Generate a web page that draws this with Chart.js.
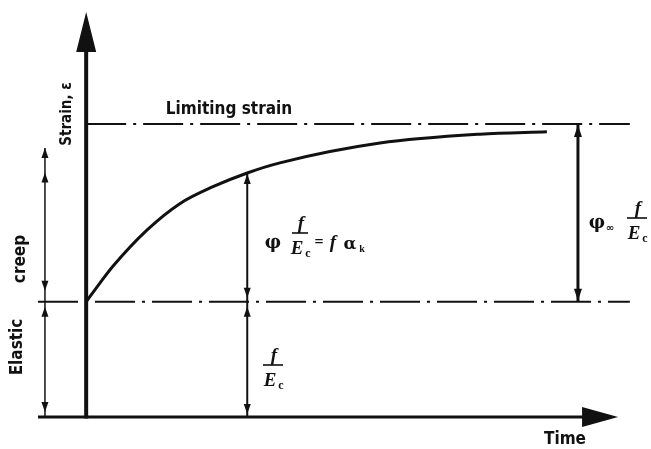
<!DOCTYPE html>
<html lang="en">
<head>
  <meta charset="UTF-8">
  <title>Strain-time curve</title>
  <script src="https://cdn.jsdelivr.net/npm/chart.js"></script>
  <style>
    html, body {
      margin: 0;
      padding: 0;
      background: #fff;
    }
    #wrap {
      width: 651px;
      height: 449px;
    }
  </style>
</head>
<body>
<div id="wrap">
  <canvas id="creepChart" width="651" height="449"></canvas>
</div>

<script>
  // creep curve (arbitrary units)
  const time = [0, 2.6, 5.0, 11.4, 17.5, 23.7, 30.1, 36.2, 54.9, 73.6, 86.1];
  const strain = [28.5, 33.2, 37.3, 46.3, 52.8, 57.0, 60.4, 62.9, 67.8, 70.0, 70.6];

  // reference levels
  const elasticStrain = 28.5;
  const limitingStrain = 72.5;
  const lineStart = [-9, 0];      // elastic, limiting
  const lineEnd = 101.6;

  // dimension lines: time position, lower and upper strain
  const dimTime = [30.1, 91.9, -7.7];
  const dimTop = [60.4, limitingStrain, 66.6];

  const ink = '#111';
  const sans = '"DejaVu Sans Condensed", "Liberation Sans Narrow", "DejaVu Sans", sans-serif';
  const serif = '"Liberation Serif", "DejaVu Serif", serif';

  function arrowHead(c, x, y, dir, len, half) {
    // dir: 'up', 'down', 'right'
    c.beginPath();
    if (dir === 'up') {
      c.moveTo(x, y); c.lineTo(x - half, y + len); c.lineTo(x + half, y + len);
    } else if (dir === 'down') {
      c.moveTo(x, y); c.lineTo(x - half, y - len); c.lineTo(x + half, y - len);
    } else {
      c.moveTo(x, y); c.lineTo(x - len, y - half); c.lineTo(x - len, y + half);
    }
    c.closePath();
    c.fill();
  }

  function vline(c, x, y1, y2, w) {
    c.lineWidth = w;
    c.beginPath();
    c.moveTo(x, y1);
    c.lineTo(x, y2);
    c.stroke();
  }

  function rotText(c, text, x, y) {
    c.save();
    c.translate(x, y);
    c.rotate(-Math.PI / 2);
    c.fillText(text, 0, 0);
    c.restore();
  }

  // f over E_c, centred on x
  function fraction(c, x, yBar, barW) {
    c.font = 'italic bold 19px ' + serif;
    c.textAlign = 'center';
    c.fillText('f', x + 1, yBar - 4);
    c.fillRect(x - barW / 2, yBar - 0.8, barW, 1.6);
    c.font = 'italic bold 19px ' + serif;
    c.fillText('E', x - 3, yBar + 21);
    c.font = 'bold 12px ' + serif;
    c.fillText('c', x + 8, yBar + 24);
  }

  const annotations = {
    id: 'annotations',
    afterDatasetsDraw(chart) {
      const c = chart.ctx;
      const X = v => chart.scales.x.getPixelForValue(v);
      const Y = v => chart.scales.y.getPixelForValue(v);
      c.save();
      c.strokeStyle = ink;
      c.fillStyle = ink;
      c.lineCap = 'butt';

      // axes with arrows
      const x0 = X(0), y0 = Y(0);
      vline(c, x0, y0 + 1.5, Y(100) + 38, 4);
      arrowHead(c, x0, Y(100) - 1, 'up', 40, 10);
      c.lineWidth = 3;
      c.beginPath();
      c.moveTo(X(-9), y0);
      c.lineTo(X(99.4) - 34, y0);
      c.stroke();
      arrowHead(c, X(99.4), y0, 'right', 36, 10);

      // dimension at the creep curve
      const xa = X(dimTime[0]);
      vline(c, xa, Y(dimTop[0]), y0, 2);
      arrowHead(c, xa, Y(dimTop[0]) + 1, 'up', 10, 3.5);
      arrowHead(c, xa, Y(elasticStrain) - 4, 'down', 10, 3.5);
      arrowHead(c, xa, Y(elasticStrain) + 5, 'up', 10, 3.5);
      arrowHead(c, xa, y0 - 3, 'down', 10, 3.5);

      // ultimate creep dimension
      const xb = X(dimTime[1]);
      vline(c, xb, Y(dimTop[1]), Y(elasticStrain), 3);
      arrowHead(c, xb, Y(dimTop[1]) + 1, 'up', 12, 4);
      arrowHead(c, xb, Y(elasticStrain) - 1, 'down', 12, 4);

      // left-hand elastic / creep dimension
      const xc = X(dimTime[2]);
      vline(c, xc, Y(dimTop[2]), y0, 1.5);
      arrowHead(c, xc, Y(dimTop[2]), 'up', 10, 3.5);
      arrowHead(c, xc, Y(60.5), 'up', 10, 3.5);
      arrowHead(c, xc, Y(elasticStrain) - 11, 'down', 10, 3.5);
      arrowHead(c, xc, Y(elasticStrain) + 5, 'up', 10, 3.5);
      arrowHead(c, xc, y0 - 5, 'down', 10, 3.5);

      // text
      c.textBaseline = 'middle';
      c.textAlign = 'center';
      c.font = 'bold 17px ' + sans;
      c.fillText('Limiting strain', 229, 110);
      c.fillText('Time', 565, 440);
      rotText(c, 'creep', 21, 259);
      rotText(c, 'Elastic', 18, 347);
      c.font = 'bold 15px ' + sans;
      rotText(c, 'Strain, \u03b5', 67, 114);

      c.textBaseline = 'alphabetic';
      // phi f/Ec = f alpha_k
      c.font = 'bold 18px "DejaVu Serif", serif';
      c.fillText('\u03c6', 273, 248);
      fraction(c, 300, 233, 16);
      c.font = 'bold 16px ' + serif;
      c.fillText('=', 319, 247);
      c.font = 'italic bold 19px ' + serif;
      c.fillText('f', 333, 248);
      c.font = 'bold 17px "DejaVu Serif", serif';
      c.fillText('\u03b1', 350, 249);
      c.font = 'bold 10px ' + serif;
      c.fillText('k', 362, 252);

      // f/Ec
      fraction(c, 273, 365, 20);

      // phi_inf f/Ec
      c.font = 'bold 18px "DejaVu Serif", serif';
      c.fillText('\u03c6', 597, 228);
      c.font = 'bold 10px "DejaVu Sans", sans-serif';
      c.fillText('\u221e', 610, 231);
      fraction(c, 637, 218, 20);

      c.restore();
    }
  };

  const refLine = (x1, y) => [{x: x1, y: y}, {x: lineEnd, y: y}];

  new Chart(document.getElementById('creepChart'), {
    type: 'line',
    data: {
      datasets: [
        {
          label: 'Strain',
          data: time.map((t, i) => ({x: t, y: strain[i]})),
          borderColor: ink,
          borderWidth: 3,
          pointRadius: 0,
          cubicInterpolationMode: 'monotone',
          fill: false
        },
        {
          label: 'Limiting strain',
          data: refLine(lineStart[1], limitingStrain),
          borderColor: ink,
          borderWidth: 2,
          borderDash: [40, 7, 3, 7],
          pointRadius: 0
        },
        {
          label: 'Elastic strain',
          data: refLine(lineStart[0], elasticStrain),
          borderColor: ink,
          borderWidth: 2,
          borderDash: [40, 7, 3, 7],
          pointRadius: 0
        }
      ]
    },
    options: {
      responsive: false,
      animation: false,
      layout: {
        padding: {left: 38, right: 19, top: 13, bottom: 32}
      },
      plugins: {
        legend: {display: false},
        tooltip: {enabled: false}
      },
      scales: {
        x: {type: 'linear', min: -9, max: 102, display: false},
        y: {type: 'linear', min: 0, max: 100, display: false}
      }
    },
    plugins: [annotations]
  });
</script>
</body>
</html>
